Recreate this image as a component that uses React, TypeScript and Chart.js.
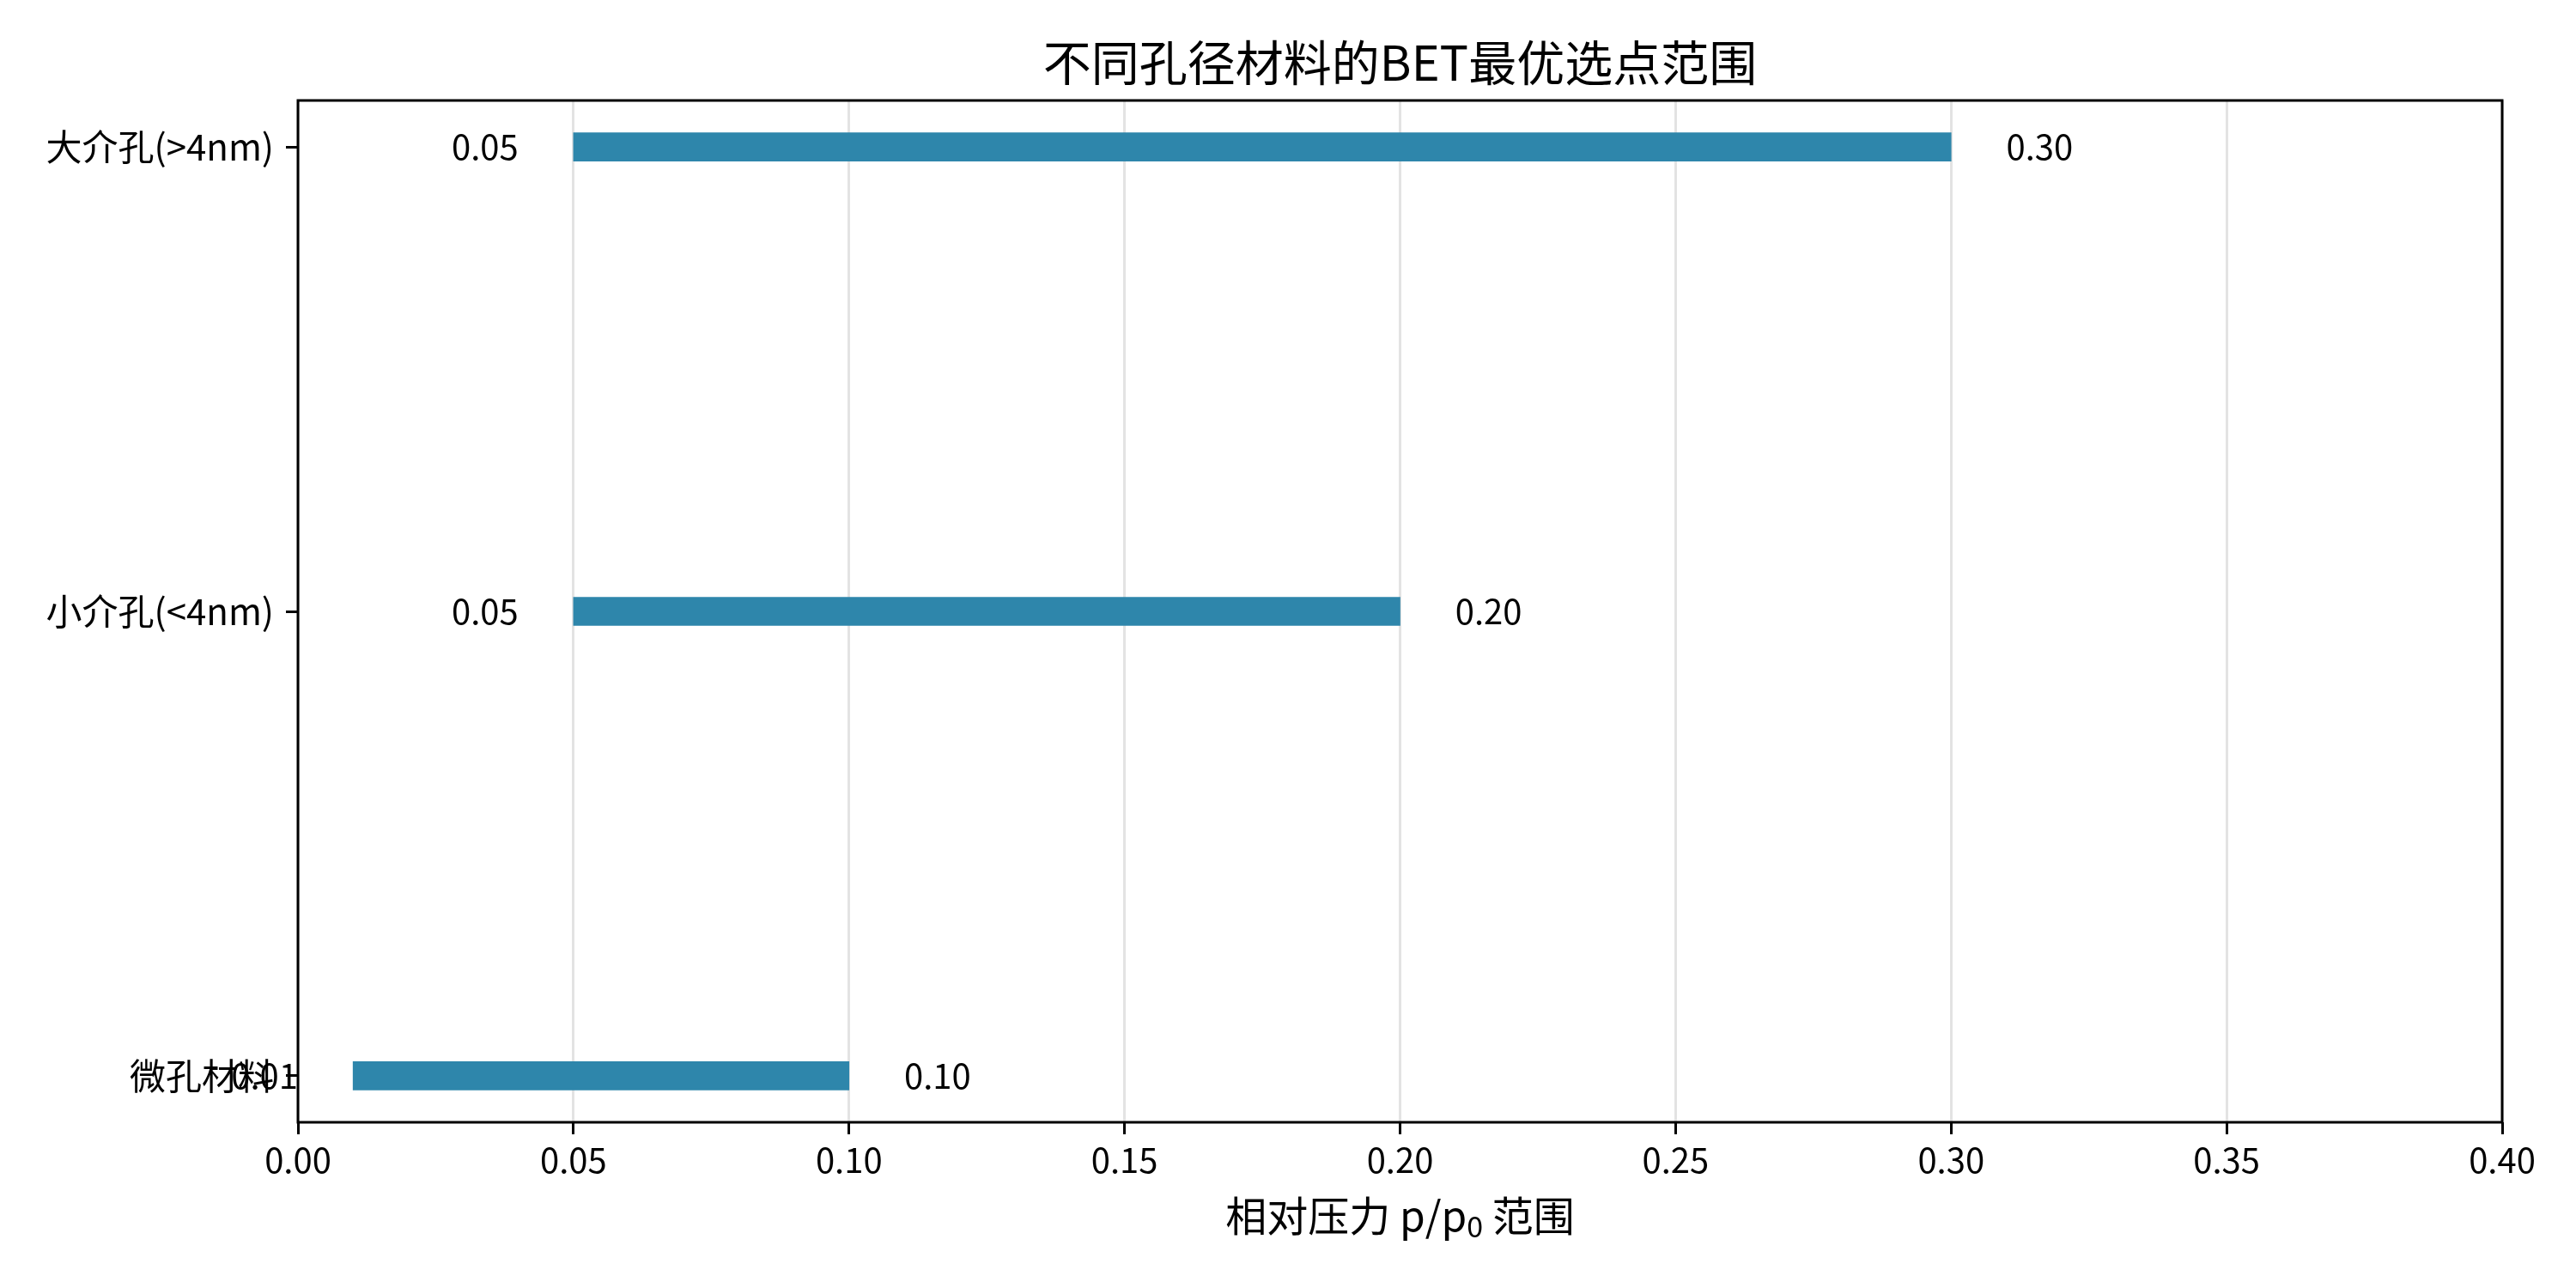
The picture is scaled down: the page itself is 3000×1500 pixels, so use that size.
import { useEffect, useRef } from 'react';
import { Chart, registerables } from 'chart.js';

Chart.register(...registerables);

const categories = ['微孔材料', '小介孔(<4nm)', '大介孔(>4nm)'];
const rangeStart = [0.01, 0.05, 0.05];
const rangeEnd = [0.1, 0.2, 0.3];
const xTicks = [0, 0.05, 0.1, 0.15, 0.2, 0.25, 0.3, 0.35, 0.4];
const titleText = '不同孔径材料的BET最优选点范围';
const xLabelMain = '相对压力 p/p';
const xLabelSub = '0';
const xLabelTail = ' 范围';

const FONT = '"Noto Sans CJK SC", "DejaVu Sans", sans-serif';

export default function App() {
  const ref = useRef<HTMLCanvasElement>(null);

  useEffect(() => {
    document.body.style.margin = '0';
    const canvas = ref.current!;

    const decor = {
      id: 'decor',
      afterDatasetsDraw(chart: any) {
        const ctx = chart.ctx;
        const xs = chart.scales.x;
        const meta = chart.getDatasetMeta(0);
        ctx.save();
        ctx.fillStyle = '#000';
        ctx.font = `40px ${FONT}`;
        ctx.textBaseline = 'middle';
        meta.data.forEach((el: any, i: number) => {
          const y = el.y;
          ctx.textAlign = 'right';
          ctx.fillText(rangeStart[i].toFixed(2), xs.getPixelForValue(rangeStart[i] - 0.01), y);
          ctx.textAlign = 'left';
          ctx.fillText(rangeEnd[i].toFixed(2), xs.getPixelForValue(rangeEnd[i] + 0.01), y);
        });
        ctx.restore();
      },
      afterDraw(chart: any) {
        const ctx = chart.ctx;
        const { left, right, top, bottom } = chart.chartArea;
        ctx.save();
        ctx.strokeStyle = '#000';
        ctx.lineWidth = 3;
        ctx.strokeRect(left, top, right - left, bottom - top);

        const cx = (left + right) / 2;
        ctx.fillStyle = '#000';
        ctx.textBaseline = 'middle';
        ctx.textAlign = 'center';
        ctx.font = `56px ${FONT}`;
        ctx.fillText(titleText, cx, 73);

        // x axis label with subscript
        ctx.textAlign = 'left';
        ctx.font = `48px ${FONT}`;
        const w1 = ctx.measureText(xLabelMain).width;
        const w3 = ctx.measureText(xLabelTail).width;
        ctx.font = `34px ${FONT}`;
        const w2 = ctx.measureText(xLabelSub).width;
        const total = w1 + w2 + w3;
        let x = cx - total / 2;
        const y = 1416;
        ctx.font = `48px ${FONT}`;
        ctx.fillText(xLabelMain, x, y);
        x += w1;
        ctx.font = `34px ${FONT}`;
        ctx.fillText(xLabelSub, x, y + 12);
        x += w2;
        ctx.font = `48px ${FONT}`;
        ctx.fillText(xLabelTail, x, y);
        ctx.restore();
      },
    };

    const chart = new Chart(canvas, {
      type: 'bar',
      data: {
        datasets: [
          {
            data: categories.map((_, i) => ({ y: i, x: [rangeStart[i], rangeEnd[i]] })) as any,
            backgroundColor: '#2E86AB',
            borderWidth: 0,
            barThickness: 33,
          },
        ],
      },
      options: {
        indexAxis: 'y',
        responsive: false,
        devicePixelRatio: 1,
        animation: false,
        layout: { padding: { top: 117, right: 86, left: 0, bottom: 0 } },
        plugins: {
          legend: { display: false },
          tooltip: { enabled: false },
          title: { display: false },
        },
        scales: {
          x: {
            type: 'linear',
            min: 0,
            max: 0.4,
            offset: false,
            afterBuildTicks: (s: any) => {
              s.ticks = xTicks.map((v) => ({ value: v }));
            },
            afterFit: (s: any) => {
              s.height = 193;
            },
            ticks: {
              callback: (v: any) => Number(v).toFixed(2),
              font: { size: 40, family: FONT },
              color: '#000',
              padding: 6,
              maxRotation: 0,
              autoSkip: false,
            },
            grid: {
              color: 'rgba(176,176,176,0.35)',
              lineWidth: 3,
              tickColor: '#000',
              tickWidth: 3,
              tickLength: 14,
              drawOnChartArea: true,
              offset: false,
            },
            border: { display: false },
          },
          y: {
            type: 'linear',
            min: -0.1,
            max: 2.1,
            offset: false,
            afterBuildTicks: (s: any) => {
              s.ticks = categories.map((_, i) => ({ value: i }));
            },
            afterFit: (s: any) => {
              s.width = 347;
            },
            ticks: {
              callback: (v: any) => categories[Number(v)] ?? '',
              font: { size: 42, family: FONT },
              color: '#000',
              padding: 14,
              autoSkip: false,
            },
            grid: {
              drawOnChartArea: false,
              offset: false,
              lineWidth: 3,
              tickColor: '#000',
              tickWidth: 3,
              tickLength: 14,
            },
            border: { display: false },
          },
        },
      },
      plugins: [decor],
    } as any);

    return () => chart.destroy();
  }, []);

  return (
    <div style={{ width: 3000, height: 1500, background: '#fff' }}>
      <canvas ref={ref} width={3000} height={1500} style={{ display: 'block', width: 3000, height: 1500 }} />
    </div>
  );
}
